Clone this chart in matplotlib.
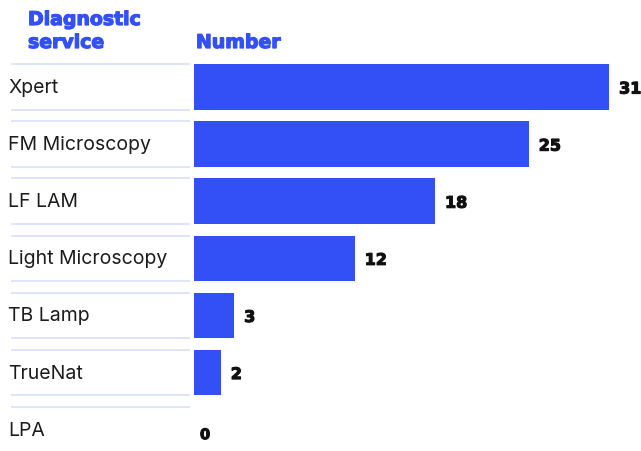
import matplotlib
matplotlib.use("Agg")
import matplotlib.pyplot as plt
import matplotlib.transforms as mtransforms
import matplotlib.patheffects as pe

categories = ["Xpert", "FM Microscopy", "LF LAM", "Light Microscopy", "TB Lamp", "TrueNat", "LPA"]
values = [31, 25, 18, 12, 3, 2, 0]
header_left = ["Diagnostic", "service"]
header_right = "Number"

BLUE = "#3350f6"
LINE = "#dbe2fb"
W, H = 641, 452
PT = 72 / 100  # points per pixel
fig = plt.figure(figsize=(W / 100, H / 100), dpi=100)

top_px = 59.5
left_px = 194
ax = fig.add_axes([left_px / W, 0, (W - left_px) / W, (H - top_px) / H])
ypos = list(range(len(categories)))
ax.barh(ypos, values, height=0.8, color=BLUE)
ax.set_xlim(0, (W - left_px) / 13.39)
ax.set_ylim((H - top_px) / 57.1 - 0.5, -0.5)
ax.axis("off")

heavy_blue = [pe.withStroke(linewidth=0.9, foreground=BLUE)]
heavy_black = [pe.withStroke(linewidth=0.8, foreground="#111111")]

trans = mtransforms.blended_transform_factory(fig.transFigure, ax.transData)
for i, (c, v) in enumerate(zip(categories, values)):
    for yy in (i - 0.4, i + 0.4):
        ax.plot([12 / W, 189 / W], [yy, yy], transform=trans, color=LINE, lw=1.3,
                clip_on=False)
    ax.text(8 / W, i, c, transform=trans, ha="left", va="center",
            fontsize=14, family="Inter", color="#1c1c1c")
    if v > 0:
        ax.annotate(str(v), (v, i), xytext=(10 * PT, -2 * PT), textcoords="offset points",
                    ha="left", va="center", fontsize=11.5, family="DejaVu Sans",
                    fontweight="bold", color="#111111", path_effects=heavy_black)
    else:
        ax.annotate(str(v), (v, i), xytext=(6 * PT, -5 * PT), textcoords="offset points",
                    ha="left", va="center", fontsize=10.5, family="DejaVu Sans",
                    fontweight="bold", color="#111111", path_effects=heavy_black)

for txt, base in ((header_left[0], 26), (header_left[1], 49)):
    fig.text(28 / W, 1 - base / H, txt, ha="left", va="baseline", fontsize=13.6,
             family="DejaVu Sans", fontweight="bold", color=BLUE, path_effects=heavy_blue)
fig.text(196 / W, 1 - 49 / H, header_right, ha="left", va="baseline", fontsize=13.6,
         family="DejaVu Sans", fontweight="bold", color=BLUE, path_effects=heavy_blue)

fig.savefig("out.png", dpi=100)
